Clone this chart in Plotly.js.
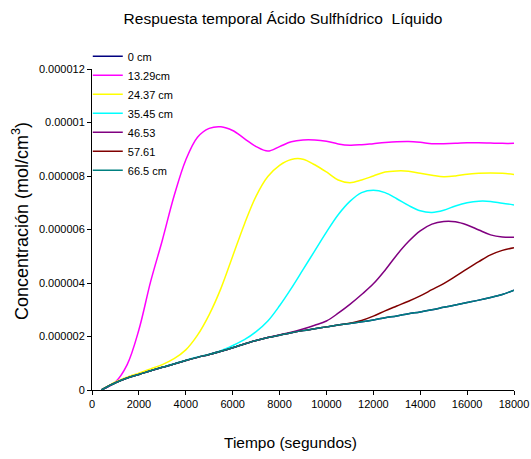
<!DOCTYPE html>
<html>
<head>
<meta charset="utf-8">
<script src="https://cdn.plot.ly/plotly-3.0.1.min.js"></script>
<style>
  html, body { margin: 0; padding: 0; background: #ffffff; }
  #chart { width: 531px; height: 459px; }
</style>
</head>
<body>
<div id="chart"></div>
<script>
// Time in seconds
const tiempo = [400, 1000, 1500, 2000, 2500, 3000, 3500, 4000, 4500, 5000, 5500, 6000,
  6500, 7000, 7500, 8000, 8500, 9000, 9500, 10000, 10500, 11000, 11500, 12000,
  12500, 13000, 13500, 14000, 14500, 15000, 15500, 16000, 16500, 17000, 17500, 18000];

// Concentration, in units of 1e-6 mol/cm3, one array per depth
const c_0cm = [0, 0.27, 0.45, 0.58, 0.72, 0.85, 0.97, 1.1, 1.22, 1.33, 1.45, 1.58,
  1.72, 1.85, 1.96, 2.05, 2.14, 2.22, 2.29, 2.36, 2.43, 2.49, 2.55, 2.62,
  2.7, 2.77, 2.85, 2.92, 3.0, 3.09, 3.18, 3.27, 3.36, 3.46, 3.57, 3.73];
const c_1329 = [0, 0.3, 0.95, 2.25, 4.05, 5.6, 7.25, 8.6, 9.45, 9.78, 9.84, 9.7,
  9.4, 9.1, 8.93, 9.1, 9.28, 9.35, 9.35, 9.3, 9.2, 9.15, 9.17, 9.21,
  9.25, 9.28, 9.29, 9.26, 9.21, 9.21, 9.22, 9.24, 9.24, 9.23, 9.22, 9.22];
const c_2437 = [0, 0.3, 0.48, 0.63, 0.79, 0.95, 1.17, 1.5, 2.05, 2.82, 3.8, 5.0,
  6.2, 7.25, 7.98, 8.4, 8.62, 8.63, 8.42, 8.15, 7.85, 7.75, 7.85, 8.0,
  8.15, 8.19, 8.18, 8.1, 8.03, 7.97, 8.0, 8.07, 8.1, 8.11, 8.1, 8.06];
const c_3545 = [0, 0.27, 0.45, 0.58, 0.72, 0.85, 0.98, 1.11, 1.23, 1.34, 1.47, 1.66,
  1.88, 2.18, 2.58, 3.15, 3.8, 4.5, 5.2, 5.9, 6.55, 7.05, 7.38, 7.47,
  7.38, 7.15, 6.9, 6.7, 6.64, 6.72, 6.88, 7.0, 7.06, 7.05, 6.98, 6.92];
const c_4653 = [0, 0.27, 0.45, 0.58, 0.72, 0.85, 0.97, 1.1, 1.22, 1.33, 1.45, 1.58,
  1.72, 1.85, 1.96, 2.06, 2.16, 2.28, 2.42, 2.58, 2.87, 3.2, 3.57, 3.97,
  4.48, 5.05, 5.55, 5.95, 6.2, 6.3, 6.29, 6.17, 5.98, 5.8, 5.72, 5.71];
const c_5761 = [0, 0.27, 0.45, 0.58, 0.72, 0.85, 0.97, 1.1, 1.22, 1.33, 1.45, 1.58,
  1.72, 1.85, 1.96, 2.05, 2.14, 2.22, 2.29, 2.36, 2.43, 2.5, 2.6, 2.76,
  2.96, 3.14, 3.32, 3.52, 3.75, 3.98, 4.25, 4.53, 4.8, 5.05, 5.22, 5.32];
const c_665 = [0, 0.27, 0.45, 0.58, 0.72, 0.85, 0.97, 1.1, 1.22, 1.33, 1.45, 1.58,
  1.72, 1.85, 1.96, 2.05, 2.14, 2.22, 2.29, 2.36, 2.43, 2.49, 2.55, 2.62,
  2.7, 2.77, 2.85, 2.92, 3.0, 3.09, 3.18, 3.27, 3.36, 3.46, 3.57, 3.73];

const seriesNames = ['0 cm', '13.29cm', '24.37 cm', '35.45 cm', '46.53', '57.61', '66.5 cm'];
const seriesValues = [c_0cm, c_1329, c_2437, c_3545, c_4653, c_5761, c_665];
const seriesColors = ['#000080', '#ff00ff', '#ffff00', '#00ffff', '#800080', '#800000', '#008080'];

const yTickVals = [0, 2, 4, 6, 8, 10, 12];
const yTickText = ['0', '0.000002', '0.000004', '0.000006', '0.000008', '0.00001', '0.000012'];
const xTickVals = [0, 2000, 4000, 6000, 8000, 10000, 12000, 14000, 16000, 18000];
const xTickText = ['0', '2000', '4000', '6000', '8000', '10000', '12000', '14000', '16000', '18000'];

const FONT = 'Liberation Sans, Arial, sans-serif';

const traces = seriesNames.map((name, i) => ({
  type: 'scatter',
  mode: 'lines',
  name: name,
  x: tiempo,
  y: seriesValues[i],
  line: { color: seriesColors[i], width: 1.5, shape: 'spline', smoothing: 1 }
}));

const layout = {
  width: 531,
  height: 459,
  paper_bgcolor: '#ffffff',
  plot_bgcolor: '#ffffff',
  margin: { l: 92, r: 17, t: 69, b: 69, pad: 0 },
  font: { family: FONT, color: '#000000', size: 11 },
  title: {
    text: 'Respuesta temporal Ácido Sulfhídrico\u00a0 Líquido',
    font: { family: FONT, size: 15.5, color: '#000000' },
    x: 283 / 531, xanchor: 'center', xref: 'container',
    y: 1 - 19 / 459, yanchor: 'middle', yref: 'container'
  },
  xaxis: {
    range: [0, 18000],
    tickvals: xTickVals,
    ticktext: xTickText,
    ticks: 'outside', ticklen: 4, tickwidth: 1, tickcolor: '#000',
    showline: true, linecolor: '#000', linewidth: 1,
    showgrid: false, zeroline: false,
    tickfont: { family: FONT, size: 11, color: '#000' }
  },
  yaxis: {
    range: [0, 12],
    tickvals: yTickVals,
    ticktext: yTickText,
    ticks: 'outside', ticklen: 4, tickwidth: 1, tickcolor: '#000',
    showline: true, linecolor: '#000', linewidth: 1,
    showgrid: false, zeroline: false,
    tickfont: { family: FONT, size: 11, color: '#000' }
  },
  legend: {
    x: -0.01, xanchor: 'left', xref: 'paper',
    y: 1.085, yanchor: 'top', yref: 'paper',
    bgcolor: 'rgba(0,0,0,0)', borderwidth: 0,
    font: { family: FONT, size: 11, color: '#000' },
    tracegroupgap: 0
  },
  showlegend: true,
  annotations: [
    {
      text: 'Tiempo (segundos)',
      xref: 'paper', yref: 'paper',
      x: (290 - 92) / 422, y: (390 - 443) / 321,
      xanchor: 'center', yanchor: 'middle',
      showarrow: false,
      font: { family: FONT, size: 15.5, color: '#000' }
    },
    {
      text: 'Concentración (mol/cm<sup>3</sup>)',
      xref: 'paper', yref: 'paper',
      x: (20 - 92) / 422, y: (390 - 221) / 321,
      xanchor: 'center', yanchor: 'middle',
      textangle: -90,
      showarrow: false,
      font: { family: FONT, size: 18, color: '#000' }
    }
  ]
};

Plotly.newPlot('chart', traces, layout, { displayModeBar: false, staticPlot: true });
</script>
</body>
</html>
